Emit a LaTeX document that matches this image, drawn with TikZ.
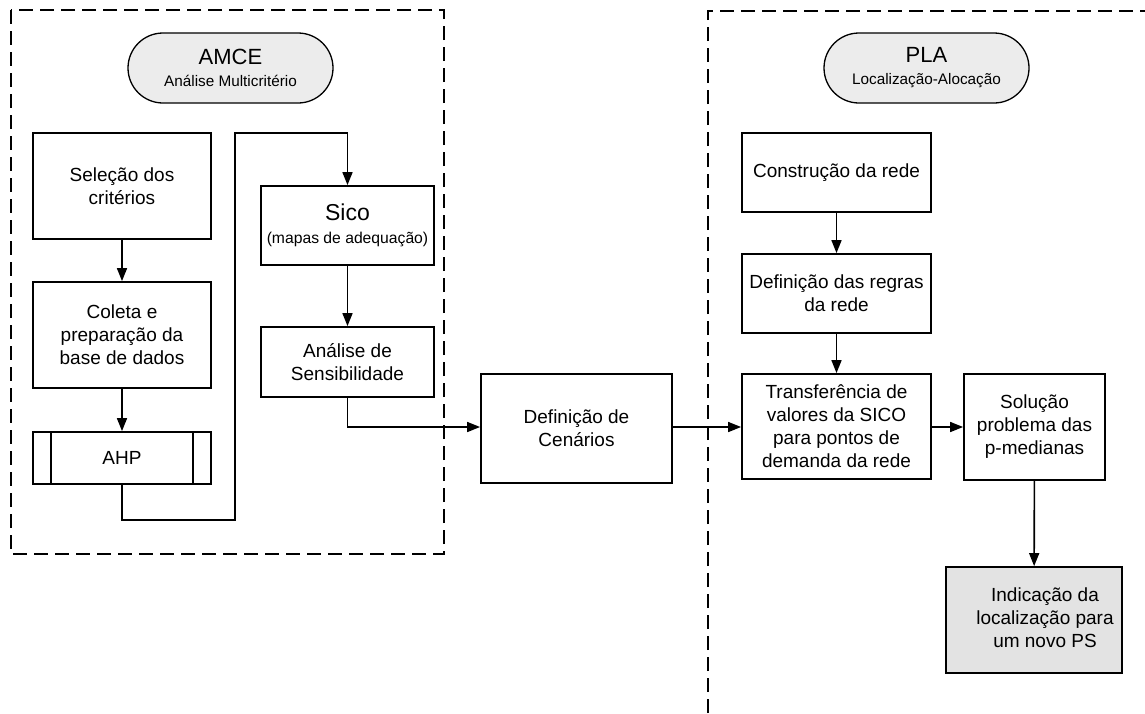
\documentclass[tikz,border=0pt]{standalone}
\usepackage{fontspec}
\setmainfont{Liberation Sans}
\usetikzlibrary{arrows.meta,shapes.misc}
\begin{document}
\begin{tikzpicture}[x=1pt,y=-1pt,
  box/.style={draw,line width=1.8pt,rectangle,align=center,font=\fontsize{19}{23}\selectfont,inner sep=0pt},
  pill/.style={draw,line width=1.3pt,rounded rectangle,fill=gray!15,minimum width=205pt,minimum height=70pt,align=center,inner sep=0pt,font=\fontsize{15.3}{22}\selectfont},
  conn/.style={line width=1.6pt,-{Triangle[length=13pt,width=10pt]}},
  frame/.style={line width=1.6pt,dash pattern=on 14pt off 7pt}]
\useasboundingbox (0,0) rectangle (1145,713);
% frames
\draw[frame] (11,10) rectangle (444,554);
\draw[frame] (708,713) -- (708,11) -- (1145,11);
% pills
\node[pill] (amce) at (230.5,68) {{\fontsize{22}{22}\selectfont AMCE}\\Análise Multicritério};
\node[pill] (pla) at (926.5,68) {{\fontsize{22}{22}\selectfont PLA}\\Localização-Alocação};
% left boxes
\node[box,minimum width=178pt,minimum height=106pt] (sel) at (122,186) {Seleção dos\\critérios};
\node[box,minimum width=178pt,minimum height=106pt] (col) at (122,335) {Coleta e\\preparação da\\base de dados};
\node[box,minimum width=178pt,minimum height=52pt] (ahp) at (122,458) {AHP};
\draw[line width=1.8pt] (51,432) -- (51,484) (193,432) -- (193,484);
\node[box,minimum width=173pt,minimum height=79pt] (sico) at (347.5,225.5) {{\fontsize{23}{23}\selectfont Sico}\\{\fontsize{15.7}{21}\selectfont (mapas de adequação)}};
\node[box,minimum width=173pt,minimum height=70pt] (sens) at (347.5,362) {Análise de\\Sensibilidade};
% center
\node[box,minimum width=191pt,minimum height=109pt] (cen) at (576.5,428.5) {Definição de\\Cenários};
% right boxes
\node[box,minimum width=189pt,minimum height=79pt] (cons) at (836.5,172.5) {Construção da rede};
\node[box,minimum width=189pt,minimum height=79pt] (reg) at (836.5,293.5) {Definição das regras\\da rede};
\node[box,minimum width=189pt,minimum height=105pt] (tra) at (836.5,426.5) {Transferência de\\valores da SICO\\para pontos de\\demanda da rede};
\node[box,minimum width=141pt,minimum height=106pt] (sol) at (1034.5,427) {Solução\\problema das\\p-medianas};
\node[box,fill=gray!22,minimum width=176pt,minimum height=106pt] (ind) at (1034,620) {\begin{tabular}{@{\hspace{22pt}}c@{}}Indicação da\\localização para\\um novo PS\end{tabular}};
% connectors
\draw[conn] (sel) -- (col);
\draw[conn] (col) -- (ahp);
\coordinate (c1) at (122,520);
\coordinate (c2) at (235,520);
\coordinate (c3) at (235,133);
\coordinate (c4) at (347.5,133);
\draw[conn] (ahp.south) -- (c1) -- (c2) -- (c3) -- (c4) -- (sico.north);
\draw[conn] (sico) -- (sens);
\coordinate (c5) at (347.5,427);
\draw[conn] (sens.south) -- (c5) -- (cen.west |- c5);
\draw[conn] (cen.east |- c5) -- (tra.west |- c5);
\draw[conn] (cons) -- (reg);
\draw[conn] (reg) -- (tra);
\draw[conn] (tra.east |- c5) -- (sol.west |- c5);
\draw[conn] (sol) -- (ind);
\end{tikzpicture}
\end{document}
